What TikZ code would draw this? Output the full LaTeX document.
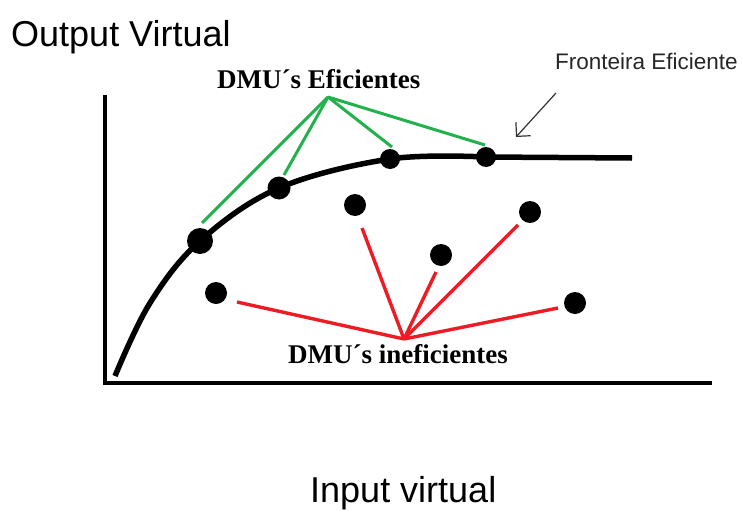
\documentclass[tikz,border=0pt]{standalone}
\usepackage{fontspec}
\setmainfont{Liberation Serif}
\setsansfont{Liberation Sans}
\usetikzlibrary{arrows.meta}
\definecolor{pgreen}{RGB}{34,177,76}
\definecolor{pred}{RGB}{237,28,36}
\begin{document}
\begin{tikzpicture}[x=1pt,y=-1pt,
  dot/.style={circle,fill=black,inner sep=0pt,minimum size=#1},
  gline/.style={pgreen,line width=3pt},
  rline/.style={pred,line width=3.4pt},
  axis/.style={black,line width=3.5pt},
  sanslabel/.style={font=\sffamily\fontsize{36}{40}\selectfont,inner sep=0pt,anchor=base west},
  serlabel/.style={font=\bfseries\fontsize{27}{30}\selectfont,inner sep=0pt,anchor=base west}]
\useasboundingbox (0,0) rectangle (743,511);
% axes
\coordinate (top) at (105,95);
\coordinate (orig) at (105,383);
\coordinate (xend) at (712,383);
\draw[axis] (top) -- (orig) -- (xend);
% frontier curve
\draw[line width=5.5pt] plot[smooth,tension=0.6] coordinates {(115,376) (150,303) (200,241) (279,188) (390,159) (486,157)} -- (632,158);
% efficient DMUs
\node[dot=26pt] (e1) at (200,241) {};
\node[dot=23pt] (e2) at (279,188) {};
\node[dot=20pt] (e3) at (390,159) {};
\node[dot=20pt] (e4) at (486,157) {};
% inefficient DMUs
\node[dot=22pt] (i1) at (216,293) {};
\node[dot=22pt] (i2) at (355,205) {};
\node[dot=22pt] (i3) at (441,255) {};
\node[dot=22pt] (i4) at (530,212) {};
\node[dot=22pt] (i5) at (575,303) {};
% labels
\node[sanslabel] (ov) at (11,47) {Output Virtual};
\node[sanslabel] (iv) at (310,502) {Input virtual};
\node[font=\sffamily\fontsize{22.5}{25}\selectfont,inner sep=0pt,anchor=base west,text=black!85] (fe) at (555,69) {Fronteira Eficiente};
\node[serlabel] (de) at (217,88) {DMU´s Eficientes};
\node[serlabel] (di) at (288,363) {DMU´s ineficientes};
% green connectors
\coordinate (gA) at (328,97);
\coordinate (g1) at (202,223);
\coordinate (g2) at (284,175);
\coordinate (g3) at (392,147);
\coordinate (g4) at (485,145);
\draw[gline] (gA) -- (g1);
\draw[gline] (gA) -- (g2);
\draw[gline] (gA) -- (g3);
\draw[gline] (gA) -- (g4);
% red connectors
\coordinate (rA) at (404,339);
\coordinate (r1) at (237,302);
\coordinate (r2) at (362,228);
\coordinate (r3) at (436,272);
\coordinate (r4) at (518,225);
\coordinate (r5) at (558,308);
\draw[rline] (rA) -- (r1);
\draw[rline] (rA) -- (r2);
\draw[rline] (rA) -- (r3);
\draw[rline] (rA) -- (r4);
\draw[rline] (rA) -- (r5);
% arrow to frontier
\coordinate (aS) at (556,93);
\coordinate (aE) at (516,137);
\draw[black!80,line width=1.2pt,-{Straight Barb[length=10pt,width=20pt,line width=1.2pt]}] (aS) -- (aE);
\end{tikzpicture}
\end{document}
